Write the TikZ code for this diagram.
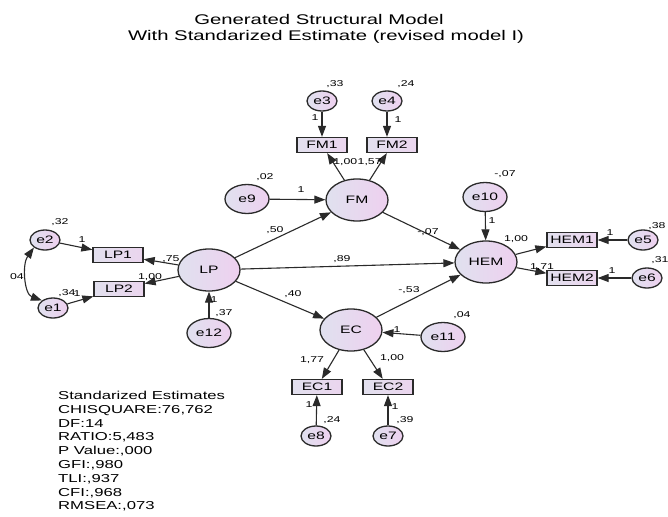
\documentclass[tikz,border=0pt]{standalone}
\usepackage{fontspec}
\setmainfont{Liberation Sans}[FakeStretch=1.45]
\usetikzlibrary{shapes.geometric,arrows.meta}
\definecolor{lavA}{HTML}{E0E1EF}
\definecolor{lavB}{HTML}{EED0EF}
\definecolor{boxA}{HTML}{E2E0EE}
\definecolor{boxB}{HTML}{EBD5EE}
\definecolor{ln}{HTML}{2A2A2A}
\tikzset{
  lat/.style={ellipse, draw=ln, line width=1.3pt, inner sep=0pt,
    minimum width=62pt, minimum height=42pt, left color=lavA, right color=lavB,
    font=\fontsize{10.8}{12}\selectfont},
  err/.style={lat, minimum width=44pt, minimum height=29pt},
  serr/.style={lat, minimum width=30pt, minimum height=20pt},
  obs/.style={rectangle, draw=ln, line width=1.3pt, inner sep=0pt,
    minimum width=50pt, minimum height=15pt, left color=boxA, right color=boxB,
    font=\fontsize{10.8}{12}\selectfont},
  lab/.style={inner sep=0pt, font=\fontsize{8.5}{10}\selectfont},
  tip/.tip={Triangle[length=11pt,width=8pt]},
  pth/.style={draw=ln, line width=1.1pt, -tip},
  cov/.style={draw=ln, line width=1.1pt, tip-tip},
}
\begin{document}
\begin{tikzpicture}[x=1pt,y=-1pt]
\useasboundingbox[fill=white] (0,0) rectangle (668,516);
% title
\node[inner sep=0pt, font=\fontsize{14}{16}\selectfont] (t1) at (319,19) {Generated Structural Model};
\node[inner sep=0pt, font=\fontsize{14}{16}\selectfont] (t2) at (326,37) {With Standarized Estimate (revised model I)};
% latent variables
\node[lat] (LP) at (209,270) {LP};
\node[lat] (FM) at (357,200) {FM};
\node[lat] (HEM) at (486,262) {HEM};
\node[lat] (EC) at (351,330) {EC};
% observed
\node[obs] (FM1) at (322,145) {FM1};
\node[obs] (FM2) at (392,145) {FM2};
\node[obs] (LP1) at (118,255) {LP1};
\node[obs] (LP2) at (119,289) {LP2};
\node[obs] (HEM1) at (572,240) {HEM1};
\node[obs] (HEM2) at (572,278) {HEM2};
\node[obs] (EC1) at (317,387) {EC1};
\node[obs] (EC2) at (388,387) {EC2};
% errors
\node[serr] (e3) at (322,101) {e3};
\node[serr] (e4) at (387,101) {e4};
\node[serr] (e2) at (45,240) {e2};
\node[serr] (e1) at (53,308) {e1};
\node[serr] (e5) at (643,240) {e5};
\node[serr] (e6) at (647,278) {e6};
\node[serr] (e8) at (316,436) {e8};
\node[serr] (e7) at (388,436) {e7};
\node[err] (e9) at (247,199) {e9};
\node[err] (e10) at (485,197) {e10};
\node[err] (e11) at (443,337) {e11};
\node[err] (e12) at (209,333) {e12};
% paths
\draw[pth] (e3) -- (FM1);
\draw[pth] (e4) -- (e4 |- FM2.north);
\draw[pth] (FM) -- (FM1);
\draw[pth] (FM) -- (FM2);
\draw[pth] (e9) -- (FM);
\draw[pth] (LP) -- (FM);
\draw[pth] (LP) -- (HEM);
\draw[pth] (LP) -- (EC);
\draw[pth] (FM) -- (HEM);
\draw[pth] (EC) -- (HEM);
\draw[pth] (e10) -- (HEM);
\draw[pth] (HEM) -- (HEM1);
\draw[pth] (HEM) -- (HEM2);
\draw[pth] (e5) -- (HEM1);
\draw[pth] (e6) -- (HEM2);
\draw[pth] (LP) -- (LP1);
\draw[pth] (LP) -- (LP2);
\draw[pth] (e2) -- (LP1);
\draw[pth] (e1) -- (LP2);
\draw[pth] (e12) -- (LP);
\draw[pth] (e11) -- (EC);
\draw[pth] (EC) -- (EC1);
\draw[pth] (EC) -- (EC2);
\draw[pth] (e8) -- (EC1);
\draw[pth] (e7) -- (EC2);
\draw[cov] (e2.south west) .. controls (22,264) and (24,294) .. (e1.north west);
% labels
\node[lab] (l1) at (335,84) {,33};
\node[lab] (l2) at (406,84) {,24};
\node[lab] (l3) at (315,118) {1};
\node[lab] (l4) at (398,120) {1};
\node[lab, anchor=east] (l5) at (357.5,162) {1,00};
\node[lab, anchor=west] (l6) at (357.5,162) {1,57};
\node[lab] (l7) at (265,177) {,02};
\node[lab] (l8) at (301,190) {1};
\node[lab] (l9) at (505,174) {-,07};
\node[lab] (l10) at (492,221) {1};
\node[lab] (l11) at (275,230) {,50};
\node[lab] (l12) at (342,259) {,89};
\node[lab] (l13) at (293,294) {,40};
\node[lab] (l14) at (428,232) {-,07};
\node[lab] (l15) at (409,290) {-,53};
\node[lab] (l16) at (60,222) {,32};
\node[lab] (l17) at (82,240) {1};
\node[lab] (l18) at (171,259) {,75};
\node[lab] (l19) at (17,277) {04};
\node[lab] (l20) at (150,277) {1,00};
\node[lab] (l21) at (67,293) {,34};
\node[lab] (l22) at (77,294) {1};
\node[lab] (l23) at (214,300) {1};
\node[lab] (l24) at (224,313) {,37};
\node[lab] (l25) at (516,239) {1,00};
\node[lab] (l26) at (657,226) {,38};
\node[lab] (l27) at (610,233) {1};
\node[lab] (l28) at (542,267) {1,71};
\node[lab] (l29) at (660,260) {,31};
\node[lab] (l30) at (612,271) {1};
\node[lab] (l31) at (312,360) {1,77};
\node[lab] (l32) at (392,358) {1,00};
\node[lab] (l33) at (462,315) {,04};
\node[lab] (l34) at (397,330) {1};
\node[lab] (l35) at (309,405) {1};
\node[lab] (l36) at (395,407) {1};
\node[lab] (l37) at (332,420) {,24};
\node[lab] (l38) at (405,420) {,39};
% fit statistics
\node[anchor=north west, inner sep=0pt, align=left, font=\fontsize{11.5}{13.8}\selectfont] (stats) at (58,391)
 {Standarized Estimates\\CHISQUARE:76,762\\DF:14\\RATIO:5,483\\P Value:,000\\GFI:,980\\TLI:,937\\CFI:,968\\RMSEA:,073};
\end{tikzpicture}
\end{document}
